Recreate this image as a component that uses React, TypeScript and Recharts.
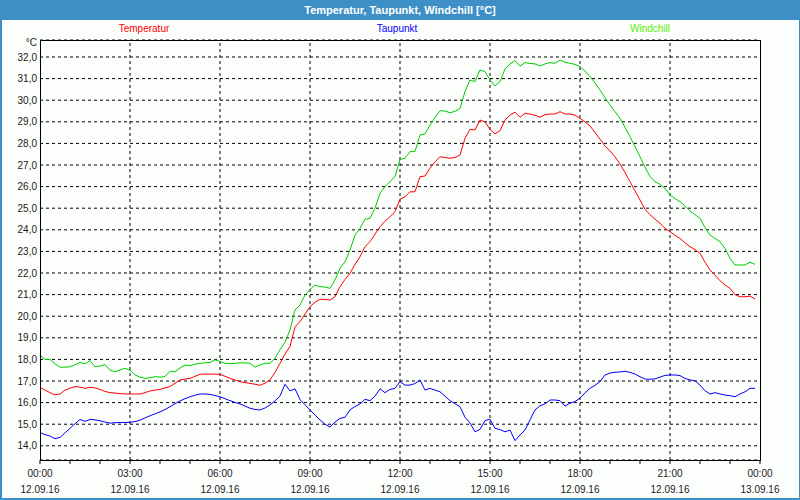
import { LineChart, Line, XAxis, YAxis, CartesianGrid, ReferenceLine } from 'recharts';

// 10-minute samples, 12.09.16 00:00 .. 23:50
const temperatur = [
  16.71, 16.58, 16.46, 16.36, 16.4, 16.58, 16.67, 16.74, 16.72, 16.66, 16.71, 16.68,
  16.61, 16.52, 16.46, 16.44, 16.42, 16.4, 16.4, 16.4, 16.4, 16.46, 16.54, 16.58,
  16.61, 16.68, 16.74, 16.9, 17.05, 17.09, 17.12, 17.22, 17.31, 17.32, 17.32, 17.32,
  17.31, 17.22, 17.12, 17.05, 16.97, 16.93, 16.89, 16.85, 16.8, 16.9, 17.05, 17.4,
  17.82, 18.25, 18.6, 19.51, 19.75, 20.1, 20.44, 20.65, 20.78, 20.78, 20.75, 20.9,
  21.37, 21.7, 21.99, 22.4, 22.75, 23.22, 23.45, 23.8, 24.14, 24.4, 24.61, 24.84,
  25.41, 25.53, 25.76, 25.76, 26.46, 26.49, 26.85, 27.15, 27.38, 27.35, 27.31, 27.35,
  27.46, 28.24, 28.65, 28.62, 29.08, 29.0, 28.65, 28.44, 28.59, 29.08, 29.31, 29.45,
  29.21, 29.39, 29.36, 29.3, 29.21, 29.33, 29.36, 29.36, 29.47, 29.36, 29.36, 29.31,
  29.16, 29.0, 28.81, 28.5, 28.2, 27.88, 27.65, 27.38, 27.05, 26.65, 26.23, 25.8,
  25.38, 24.95, 24.7, 24.49, 24.3, 24.07, 23.91, 23.75, 23.6, 23.4, 23.22, 23.08,
  22.91, 22.5, 22.14, 21.9, 21.64, 21.45, 21.29, 21.0, 20.9, 20.9, 20.93, 20.8,
];

const taupunkt = [
  14.61, 14.52, 14.45, 14.33, 14.39, 14.6, 14.81, 15.02, 15.22, 15.13, 15.22, 15.2,
  15.16, 15.1, 15.05, 15.07, 15.08, 15.08, 15.09, 15.12, 15.19, 15.29, 15.39, 15.48,
  15.57, 15.68, 15.81, 15.95, 16.08, 16.18, 16.27, 16.34, 16.4, 16.4, 16.38, 16.33,
  16.27, 16.18, 16.09, 16.01, 15.94, 15.84, 15.74, 15.68, 15.66, 15.75, 15.89, 16.08,
  16.31, 16.85, 16.54, 16.64, 16.14, 15.9, 15.66, 15.42, 15.2, 15.0, 14.87, 15.1,
  15.27, 15.32, 15.66, 15.82, 15.94, 16.15, 16.09, 16.3, 16.64, 16.46, 16.61, 16.66,
  16.97, 16.81, 16.81, 16.88, 17.05, 16.58, 16.66, 16.58, 16.5, 16.3, 16.09, 15.95,
  15.81, 15.32, 15.06, 14.65, 14.76, 15.17, 15.23, 14.81, 14.75, 14.65, 14.73, 14.24,
  14.5, 14.73, 15.2, 15.66, 15.85, 15.94, 16.12, 16.12, 16.09, 15.84, 15.97, 16.05,
  16.2, 16.45, 16.66, 16.8, 16.97, 17.28, 17.37, 17.4, 17.42, 17.45, 17.4, 17.32,
  17.2, 17.09, 17.08, 17.1, 17.18, 17.26, 17.28, 17.28, 17.25, 17.12, 17.05, 17.01,
  16.81, 16.55, 16.4, 16.46, 16.4, 16.35, 16.32, 16.27, 16.4, 16.5, 16.66, 16.66,
];

const windchill = [
  18.2, 18.0, 18.0, 17.8, 17.64, 17.64, 17.66, 17.75, 17.86, 17.79, 17.95, 17.66,
  17.69, 17.76, 17.5, 17.43, 17.51, 17.59, 17.5, 17.28, 17.18, 17.12, 17.15, 17.2,
  17.18, 17.2, 17.45, 17.43, 17.6, 17.74, 17.71, 17.78, 17.82, 17.84, 17.86, 17.98,
  17.9, 17.82, 17.8, 17.82, 17.84, 17.84, 17.82, 17.64, 17.75, 17.82, 17.82, 18.05,
  18.45, 18.8, 19.36, 20.29, 20.52, 20.98, 21.24, 21.44, 21.37, 21.35, 21.29, 21.68,
  22.22, 22.52, 23.06, 23.76, 24.07, 24.49, 24.53, 25.0, 25.69, 26.0, 26.23, 26.46,
  27.26, 27.31, 27.62, 27.62, 28.39, 28.44, 28.85, 29.2, 29.51, 29.5, 29.42, 29.48,
  29.62, 30.4, 30.94, 30.86, 31.4, 31.32, 30.94, 30.66, 30.86, 31.45, 31.68, 31.83,
  31.58, 31.74, 31.7, 31.68, 31.58, 31.68, 31.74, 31.71, 31.86, 31.76, 31.71, 31.66,
  31.55, 31.35, 31.09, 30.8, 30.47, 30.12, 29.78, 29.47, 29.16, 28.75, 28.31, 27.85,
  27.38, 26.9, 26.46, 26.23, 26.1, 25.92, 25.61, 25.45, 25.3, 25.1, 24.88, 24.7,
  24.53, 24.1, 23.76, 23.6, 23.45, 23.14, 22.68, 22.37, 22.37, 22.37, 22.5, 22.4,
];

const stepMinutes = 10;
const hourTicks = [
  0, 60, 120, 180, 240, 300, 360, 420, 480, 540, 600, 660, 720,
  780, 840, 900, 960, 1020, 1080, 1140, 1200, 1260, 1320, 1380, 1440,
];
const gridMinutes = [180, 360, 540, 720, 900, 1080, 1260];
const timeLabels = ['00:00', '03:00', '06:00', '09:00', '12:00', '15:00', '18:00', '21:00', '00:00'];
const dateLabels = [
  '12.09.16', '12.09.16', '12.09.16', '12.09.16', '12.09.16',
  '12.09.16', '12.09.16', '12.09.16', '13.09.16',
];
const yTicks = [14, 15, 16, 17, 18, 19, 20, 21, 22, 23, 24, 25, 26, 27, 28, 29, 30, 31, 32];

const data = temperatur.map((v, i) => ({
  t: i * stepMinutes,
  temperatur: v,
  taupunkt: taupunkt[i],
  windchill: windchill[i],
}));

const FONT = '"Liberation Sans", Arial, sans-serif';

function TimeTick(props: any) {
  const { x, y, payload } = props;
  const v = payload.value;
  if (v % 180 !== 0) return <g />;
  const idx = v / 180;
  return (
    <g>
      <text x={x} y={y + 11} textAnchor="middle" fontSize={10} fontFamily={FONT} fill="#1a1a1a">
        {timeLabels[idx]}
      </text>
      <text x={x} y={y + 27} textAnchor="middle" fontSize={10} fontFamily={FONT} fill="#1a1a1a">
        {dateLabels[idx]}
      </text>
    </g>
  );
}

const legendStyle = (left: number, color: string): React.CSSProperties => ({
  position: 'absolute',
  top: 23,
  left,
  width: 100,
  textAlign: 'center',
  fontSize: 10,
  fontFamily: FONT,
  color,
});

export default function App() {
  return (
    <div style={{ position: 'absolute', left: 0, top: 0, width: 800, height: 500, background: '#3d8fc6' }}>
      <div style={{ position: 'absolute', left: 2, top: 20, width: 797, height: 478, background: '#fcfefc' }} />
      <div
        style={{
          position: 'absolute', left: 0, top: 0, width: 800, height: 20, lineHeight: '20px',
          textAlign: 'center', color: '#ffffff', fontWeight: 'bold', fontSize: 11, fontFamily: FONT,
        }}
      >
        Temperatur, Taupunkt, Windchill [°C]
      </div>
      <div style={legendStyle(94, '#ff0000')}>Temperatur</div>
      <div style={legendStyle(347, '#0000ff')}>Taupunkt</div>
      <div style={legendStyle(600, '#55ee00')}>Windchill</div>
      <div
        style={{
          position: 'absolute', left: 0, top: 37, width: 37, textAlign: 'right',
          fontSize: 10, fontFamily: FONT, color: '#1a1a1a',
        }}
      >
        °C
      </div>
      <div style={{ position: 'absolute', left: 0, top: 0 }}>
        <LineChart width={800} height={500} data={data} margin={{ top: 40, right: 40, bottom: 0, left: 0 }}>
          <CartesianGrid vertical={false} stroke="#000000" strokeDasharray="3 3" />
          {gridMinutes.map((m) => (
            <ReferenceLine key={m} x={m} stroke="#000000" strokeDasharray="3 3" />
          ))}
          <XAxis
            dataKey="t"
            type="number"
            domain={[0, 1440]}
            ticks={hourTicks}
            interval={0}
            height={40}
            axisLine={false}
            tickLine={{ stroke: '#000000' }}
            tickSize={4}
            tickMargin={2}
            tick={<TimeTick />}
            allowDataOverflow
          />
          <YAxis
            type="number"
            domain={[13.343, 32.787]}
            ticks={yTicks}
            interval={0}
            width={40}
            axisLine={false}
            tickLine={false}
            tickSize={0}
            tickMargin={3}
            allowDataOverflow
            tick={{ fontSize: 10, fontFamily: FONT, fill: '#1a1a1a' }}
            tickFormatter={(v: number) => v.toFixed(1).replace('.', ',')}
          />
          <Line type="linear" dataKey="windchill" stroke="#00cc00" strokeWidth={1} dot={false} isAnimationActive={false} />
          <Line type="linear" dataKey="temperatur" stroke="#ff0000" strokeWidth={1} dot={false} isAnimationActive={false} />
          <Line type="linear" dataKey="taupunkt" stroke="#0000ff" strokeWidth={1} dot={false} isAnimationActive={false} />
        </LineChart>
      </div>
      <div
        style={{
          position: 'absolute', left: 40, top: 40, width: 721, height: 421,
          boxSizing: 'border-box', border: '1px solid #000000', pointerEvents: 'none',
        }}
      />
    </div>
  );
}
